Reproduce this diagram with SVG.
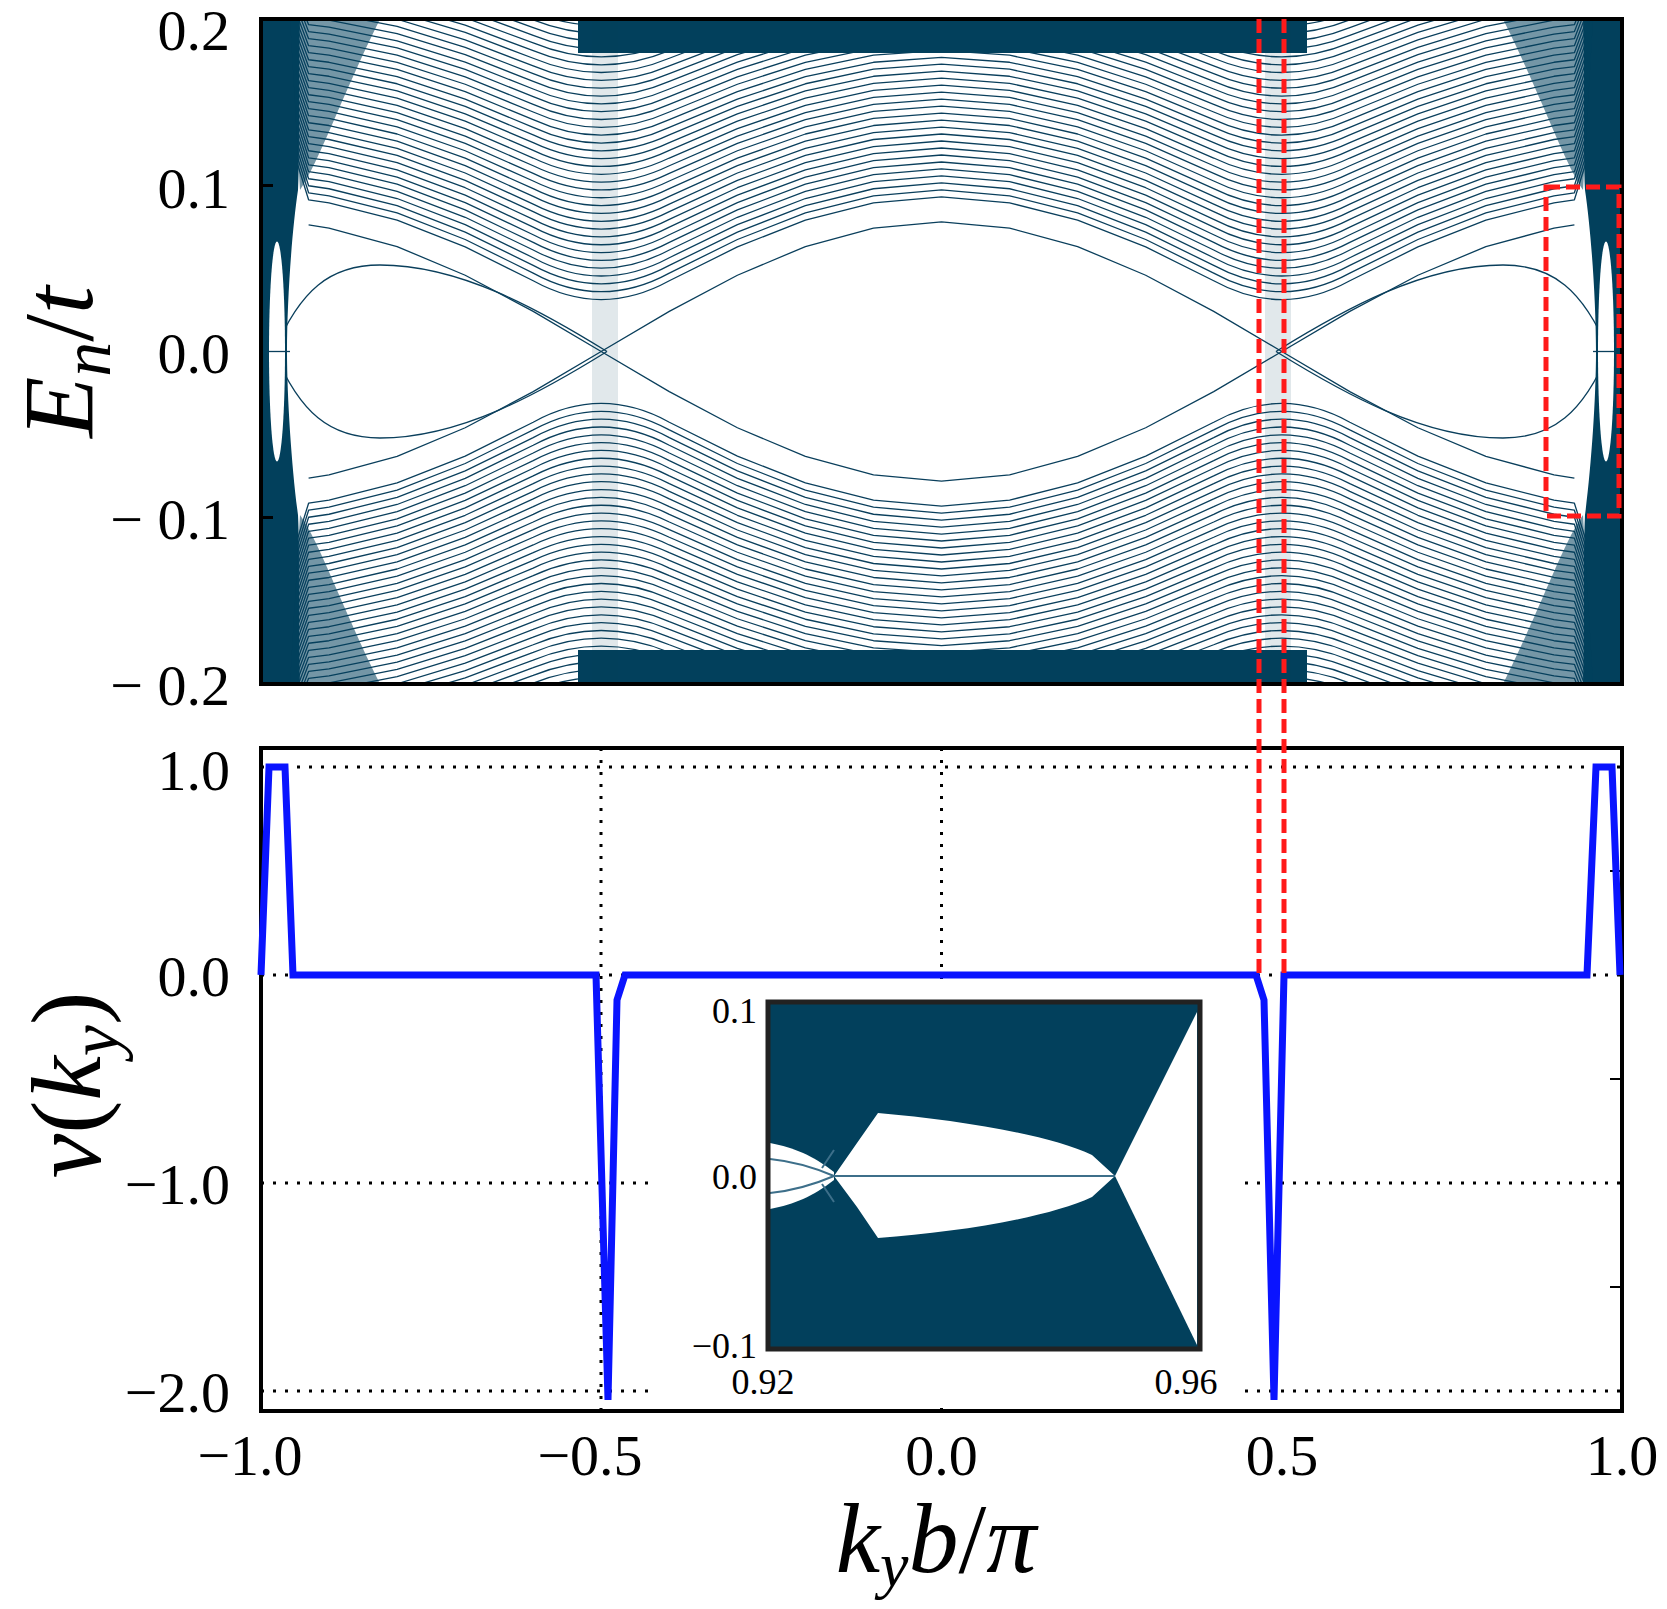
<svg xmlns="http://www.w3.org/2000/svg" xmlns:xlink="http://www.w3.org/1999/xlink" width="1667" height="1609" viewBox="0 0 1667 1609">
<style>
.tick{font-family:"Liberation Serif",serif;font-size:58px;fill:#000}
.itick{font-family:"Liberation Serif",serif;font-size:36px;fill:#000}
.title{font-family:"Liberation Serif",serif;font-style:italic;font-size:100px;fill:#000}
.band{fill:none;stroke:#0a3f5c;stroke-width:1.3;vector-effect:non-scaling-stroke;stroke-linejoin:round}
.frame{fill:none;stroke:#000;stroke-width:4}
.grid{stroke:#000;stroke-width:3;stroke-dasharray:3,9;fill:none}
.red{stroke:#ff1a1a;stroke-width:5;stroke-dasharray:14,6;fill:none}
.teal{fill:#02405c}
</style>
<defs>
<clipPath id="cp"><rect x="261" y="19" width="1361" height="665"/></clipPath>
<clipPath id="ci"><rect x="768" y="1002" width="432" height="347"/></clipPath>
<path id="tv" class="band" d="M308.6,-97.6 L329,-95.1 L397.1,-80.9 L465.2,-58.8 L533.2,-30.9 L601.2,0 L669.3,-30.9 L737.4,-58.8 L805.4,-80.9 L873.5,-95.1 L941.5,-100 L1009.6,-95.1 L1077.6,-80.9 L1145.7,-58.8 L1213.7,-30.9 L1281.8,0 L1349.8,-30.9 L1417.9,-58.8 L1485.9,-80.9 L1554,-95.1 L1574.4,-97.6"/>
<path id="ts" class="band" d="M270,-200 L308.6,-97.6 L329,-95.1 L397.1,-80.9 L465.2,-58.8 L533.2,-30.9 Q601.2,0 669.3,-30.9 L737.4,-58.8 L805.4,-80.9 L873.5,-95.1 L941.5,-100 L1009.6,-95.1 L1077.6,-80.9 L1145.7,-58.8 L1213.7,-30.9 Q1281.8,0 1349.8,-30.9 L1417.9,-58.8 L1485.9,-80.9 L1554,-95.1 L1574.4,-97.6 L1613,-200"/>
<g id="upper">
<use href="#tv" transform="translate(0,351.5) scale(1,1.297)"/>
<path class="band" d="M274,351.5 C300,290 330,265 380,265 C460,265 540,310 607,351.5"/>
<path class="band" d="M1609,351.5 C1583,290 1553,265 1503,265 C1423,265 1343,310 1276,351.5"/>
<use href="#ts" transform="translate(0,318.3) scale(1,1.214)"/>
<use href="#ts" transform="translate(0,310.3) scale(1,1.204)"/>
<use href="#ts" transform="translate(0,302.3) scale(1,1.194)"/>
<use href="#ts" transform="translate(0,294.3) scale(1,1.184)"/>
<use href="#ts" transform="translate(0,286.3) scale(1,1.174)"/>
<use href="#ts" transform="translate(0,278.4) scale(1,1.164)"/>
<use href="#ts" transform="translate(0,270.4) scale(1,1.154)"/>
<use href="#ts" transform="translate(0,262.4) scale(1,1.144)"/>
<use href="#ts" transform="translate(0,254.4) scale(1,1.134)"/>
<use href="#ts" transform="translate(0,246.4) scale(1,1.124)"/>
<use href="#ts" transform="translate(0,238.5) scale(1,1.114)"/>
<use href="#ts" transform="translate(0,230.5) scale(1,1.104)"/>
<use href="#ts" transform="translate(0,222.5) scale(1,1.094)"/>
<use href="#ts" transform="translate(0,214.5) scale(1,1.084)"/>
<use href="#ts" transform="translate(0,206.5) scale(1,1.074)"/>
<use href="#ts" transform="translate(0,198.6) scale(1,1.064)"/>
<use href="#ts" transform="translate(0,190.6) scale(1,1.054)"/>
<use href="#ts" transform="translate(0,182.6) scale(1,1.044)"/>
<use href="#ts" transform="translate(0,174.6) scale(1,1.034)"/>
<use href="#ts" transform="translate(0,166.6) scale(1,1.024)"/>
<use href="#ts" transform="translate(0,158.7) scale(1,1.014)"/>
<use href="#ts" transform="translate(0,150.7) scale(1,1.004)"/>
<use href="#ts" transform="translate(0,142.7) scale(1,0.994)"/>
<use href="#ts" transform="translate(0,134.7) scale(1,0.984)"/>
<use href="#ts" transform="translate(0,126.7) scale(1,0.974)"/>
<use href="#ts" transform="translate(0,118.8) scale(1,0.964)"/>
<use href="#ts" transform="translate(0,110.8) scale(1,0.954)"/>
<use href="#ts" transform="translate(0,102.8) scale(1,0.944)"/>
<use href="#ts" transform="translate(0,94.8) scale(1,0.934)"/>
<use href="#ts" transform="translate(0,86.8) scale(1,0.924)"/>
<use href="#ts" transform="translate(0,78.9) scale(1,0.914)"/>
<use href="#ts" transform="translate(0,70.9) scale(1,0.904)"/>
<use href="#ts" transform="translate(0,62.9) scale(1,0.894)"/>
<use href="#ts" transform="translate(0,54.9) scale(1,0.884)"/>
<use href="#ts" transform="translate(0,46.9) scale(1,0.874)"/>
<use href="#ts" transform="translate(0,39.0) scale(1,0.864)"/>
<use href="#ts" transform="translate(0,31.0) scale(1,0.854)"/>
<use href="#ts" transform="translate(0,23.0) scale(1,0.844)"/>
<use href="#ts" transform="translate(0,15.0) scale(1,0.834)"/>
<rect class="teal" x="578" y="19" width="729" height="34"/>
</g>
</defs>

<g id="top-plot">
<rect x="261" y="19" width="1361" height="665" fill="#fff"/>
<g clip-path="url(#cp)">
<use href="#upper"/>
<g transform="translate(0,703) scale(1,-1)"><use href="#upper"/></g>
<path class="teal" d="M261,19 H300 C298,80 300,150 298,190 C292,230 287,300 287,351.5 C287,400 292,470 298,515 C300,555 298,620 300,684 H261 Z"/>
<path class="teal" d="M1622,19 H1583 C1585,80 1583,150 1585,190 C1591,230 1596,300 1596,351.5 C1596,400 1591,470 1585,515 C1583,555 1585,620 1583,684 H1622 Z"/>
<path d="M290,19 H380 C340,100 320,160 300,190 Z M290,684 H380 C340,603 320,543 300,515 Z M1593,19 H1503 C1543,100 1563,160 1583,190 Z M1593,684 H1503 C1543,603 1563,543 1583,515 Z" fill="#02405c" opacity="0.55"/>
<ellipse cx="277" cy="351.5" rx="8" ry="110" fill="#fff"/>
<ellipse cx="1606" cy="351.5" rx="8" ry="110" fill="#fff"/>
<line x1="268" y1="351.5" x2="290" y2="351.5" stroke="#0a3f5c" stroke-width="1.3"/>
<line x1="1593" y1="351.5" x2="1615" y2="351.5" stroke="#0a3f5c" stroke-width="1.3"/>
<rect x="592" y="19" width="26" height="665" fill="#0a3f5c" opacity="0.12"/>
<rect x="1265" y="19" width="26" height="665" fill="#0a3f5c" opacity="0.12"/>
</g>
<rect class="frame" x="261" y="19" width="1361" height="665"/>
<path d="M261,185.5 h12 M261,517.5 h12" stroke="#000" stroke-width="3"/>
<text class="tick" x="230" y="50" text-anchor="end">0.2</text>
<text class="tick" x="230" y="208" text-anchor="end">0.1</text>
<text class="tick" x="230" y="373" text-anchor="end">0.0</text>
<text class="tick" x="230" y="539" text-anchor="end">− 0.1</text>
<text class="tick" x="230" y="705" text-anchor="end">− 0.2</text>
<text class="title" transform="translate(92,362) rotate(-90)" text-anchor="middle">E<tspan font-size="70" dy="18">n</tspan><tspan dy="-18" font-style="normal">/</tspan>t</text>
</g>

<g id="bottom-plot">
<rect x="261" y="748" width="1361" height="663" fill="#fff"/>
<path class="grid" d="M261,767 H1622 M261,975 H1622 M261,1183 H1622 M261,1391 H1622 M601,748 V1411 M941.5,748 V1411"/>
<path class="frame" d="M261,748 H1622 V1411 H261 Z"/>
<path d="M1622,1079 h-12 M1622,1287 h-12 M1622,871 h-12" stroke="#000" stroke-width="2"/>
<polyline points="261,975 269,767 285,767 293,975 596,975 608,1400 617,1000 625,975 1256,975 1264,1000 1274,1400 1284,975 1587,975 1596,767 1612,767 1620,975" fill="none" stroke="#0a14ff" stroke-width="7" stroke-linejoin="miter"/>
<text class="tick" x="230" y="790" text-anchor="end">1.0</text>
<text class="tick" x="230" y="996" text-anchor="end">0.0</text>
<text class="tick" x="230" y="1204" text-anchor="end">−1.0</text>
<text class="tick" x="230" y="1412" text-anchor="end">−2.0</text>
<text class="tick" x="250" y="1475" text-anchor="middle">−1.0</text>
<text class="tick" x="590" y="1475" text-anchor="middle">−0.5</text>
<text class="tick" x="941.5" y="1475" text-anchor="middle">0.0</text>
<text class="tick" x="1282" y="1475" text-anchor="middle">0.5</text>
<text class="tick" x="1622" y="1475" text-anchor="middle">1.0</text>
<text class="title" transform="translate(100,1085) rotate(-90)" text-anchor="middle">ν<tspan font-style="normal">(</tspan>k<tspan font-size="70" dy="18">y</tspan><tspan dy="-18" font-style="normal">)</tspan></text>
<text class="title" x="936" y="1572" text-anchor="middle" font-size="92">k<tspan font-size="64" dy="14">y</tspan><tspan dy="-14">b</tspan><tspan font-style="normal">/</tspan>π</text>
</g>

<g id="inset">
<rect x="655" y="985" width="590" height="420" fill="#fff"/>
<g clip-path="url(#ci)">
<rect class="teal" x="768" y="1002" width="432" height="347"/>
<path d="M834,1176 L857,1143 L878,1113 C960,1120 1050,1135 1092,1155 L1115,1176 L1092,1197 C1050,1217 960,1232 878,1238 L857,1207 Z" fill="#fff"/>
<path d="M1115,1176 L1197,1012 V1345 Z" fill="#fff"/>
<path d="M770,1143 C795,1148 812,1155 834,1172 L834,1180 C812,1197 795,1204 770,1209 Z" fill="#fff"/>
<path d="M770,1159 C800,1162 820,1170 834,1176 M770,1193 C800,1190 820,1182 834,1176 M834,1176 H1115 M822,1168 L834,1150 M822,1184 L834,1202" stroke="#3d6f8a" stroke-width="2" fill="none"/>
</g>
<rect x="768" y="1002" width="432" height="347" fill="none" stroke="#222" stroke-width="5"/>
<text class="itick" x="757" y="1023" text-anchor="end">0.1</text>
<text class="itick" x="757" y="1189" text-anchor="end">0.0</text>
<text class="itick" x="757" y="1358" text-anchor="end">−0.1</text>
<text class="itick" x="763" y="1394" text-anchor="middle">0.92</text>
<text class="itick" x="1186" y="1394" text-anchor="middle">0.96</text>
</g>

<g id="connectors">
<path class="red" d="M1259,19 V975 M1284,19 V975"/>
<rect class="red" x="1546" y="187" width="73" height="329"/>
</g>
</svg>
